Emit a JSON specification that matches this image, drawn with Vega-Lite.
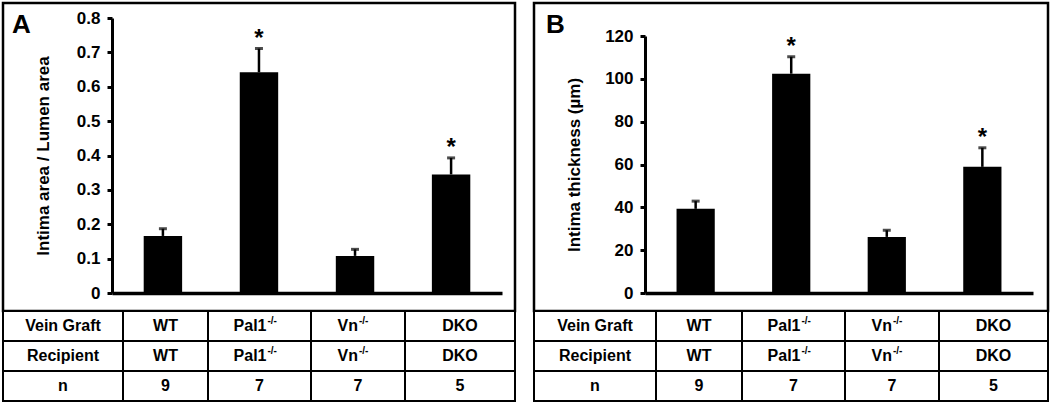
{
  "$schema": "https://vega.github.io/schema/vega-lite/v6.json",
  "padding": {"left": 1, "top": 1, "right": 0, "bottom": 0},
  "spacing": 15,
  "config": {
    "font": "Liberation Sans",
    "view": {"stroke": null},
    "axis": {"domainColor": "black", "tickColor": "black", "labelColor": "black", "titleColor": "black", "labelOverlap": false},
    "title": {"font": "Liberation Sans", "color": "black"}
  },
  "datasets": {
    "barsA": [
      {"g": "WT", "mean": 0.166, "upper": 0.187, "star": ""},
      {"g": "Pal1", "mean": 0.642, "upper": 0.711, "star": "*"},
      {"g": "Vn", "mean": 0.108, "upper": 0.127, "star": ""},
      {"g": "DKO", "mean": 0.345, "upper": 0.393, "star": "*"}
    ],
    "barsB": [
      {"g": "WT", "mean": 39.3, "upper": 42.9, "star": ""},
      {"g": "Pal1", "mean": 102.4, "upper": 110.3, "star": "*"},
      {"g": "Vn", "mean": 26.2, "upper": 29.3, "star": ""},
      {"g": "DKO", "mean": 58.9, "upper": 67.8, "star": "*"}
    ],
    "table": [
      {"r": 1, "c": 0, "t": "Vein Graft", "s": ""},
      {"r": 2, "c": 0, "t": "Recipient", "s": ""},
      {"r": 3, "c": 0, "t": "n", "s": ""},
      {"r": 1, "c": 1, "t": "WT", "s": ""},
      {"r": 2, "c": 1, "t": "WT", "s": ""},
      {"r": 3, "c": 1, "t": "9", "s": ""},
      {"r": 1, "c": 2, "t": "Pal1", "s": "-/-"},
      {"r": 2, "c": 2, "t": "Pal1", "s": "-/-"},
      {"r": 3, "c": 2, "t": "7", "s": ""},
      {"r": 1, "c": 3, "t": "Vn", "s": "-/-"},
      {"r": 2, "c": 3, "t": "Vn", "s": "-/-"},
      {"r": 3, "c": 3, "t": "7", "s": ""},
      {"r": 1, "c": 4, "t": "DKO", "s": ""},
      {"r": 2, "c": 4, "t": "DKO", "s": ""},
      {"r": 3, "c": 4, "t": "5", "s": ""}
    ]
  },
  "hconcat": [
    {
      "spacing": 0,
      "bounds": "flush",
      "vconcat": [
        {
          "width": 512,
          "height": 308,
          "view": {"stroke": "black", "strokeWidth": 2.5},
          "title": {"text": "A", "anchor": "start", "offset": -35, "dx": 9, "fontSize": 26, "fontWeight": "bold"},
          "data": {"name": "barsA"},
          "encoding": {
            "x": {"field": "g", "type": "nominal", "sort": null,
              "scale": {"range": [109, 499], "paddingInner": 0.6, "paddingOuter": 0.33},
              "axis": {"orient": "bottom", "offset": -18, "labels": false, "ticks": false, "title": null, "domainWidth": 3.5}}
          },
          "layer": [
            {
              "mark": {"type": "bar", "color": "black"},
              "encoding": {
                "y": {"field": "mean", "type": "quantitative",
                  "scale": {"domain": [0, 0.8], "range": [290, 15]},
                  "axis": {"orient": "left", "offset": -109, "values": [0, 0.1, 0.2, 0.3, 0.4, 0.5, 0.6, 0.7, 0.8], "format": ".1~f",
                    "labelOverlap": false, "labelBound": false, "labelFlush": false, "tickCount": 9,
                    "grid": false, "domainWidth": 3, "tickSize": 5, "tickWidth": 3, "labelPadding": 7,
                    "labelFontSize": 17, "labelFontWeight": "bold",
                    "title": "Intima area / Lumen area", "titleFontSize": 17, "titleFontWeight": "bold", "titlePadding": 24}}
              }
            },
            {
              "mark": {"type": "rule", "color": "black", "strokeWidth": 2.5},
              "encoding": {"y": {"field": "mean", "type": "quantitative"}, "y2": {"field": "upper"}}
            },
            {
              "mark": {"type": "tick", "color": "black", "size": 8, "thickness": 3},
              "encoding": {"y": {"field": "upper", "type": "quantitative"}}
            },
            {
              "mark": {"type": "text", "fontSize": 24, "fontWeight": "bold", "baseline": "alphabetic", "dy": -3, "color": "black"},
              "encoding": {"y": {"field": "upper", "type": "quantitative"}, "text": {"field": "star"}}
            }
          ]
        },
        {
          "spacing": 0,
          "bounds": "flush",
          "hconcat": [
            {
              "width": 120, "height": 90, "data": {"name": "table"},
              "transform": [{"filter": "datum.c === 0"}],
              "encoding": {"y": {"field": "r", "type": "ordinal", "scale": {"paddingInner": 0, "paddingOuter": 0}, "axis": null}},
              "layer": [
                {"mark": {"type": "rect", "fill": "white", "stroke": "black", "strokeWidth": 2}},
                {"mark": {"type": "text", "fontSize": 16, "fontWeight": "bold", "color": "black"}, "encoding": {"text": {"field": "t"}}}
              ]
            },
            {
              "width": 85, "height": 90, "data": {"name": "table"},
              "transform": [{"filter": "datum.c === 1"}],
              "encoding": {"y": {"field": "r", "type": "ordinal", "scale": {"paddingInner": 0, "paddingOuter": 0}, "axis": null}},
              "layer": [
                {"mark": {"type": "rect", "fill": "white", "stroke": "black", "strokeWidth": 2}},
                {"mark": {"type": "text", "fontSize": 16, "fontWeight": "bold", "color": "black"}, "encoding": {"text": {"field": "t"}}}
              ]
            },
            {
              "width": 103, "height": 90, "data": {"name": "table"},
              "transform": [{"filter": "datum.c === 2"}],
              "encoding": {"y": {"field": "r", "type": "ordinal", "scale": {"paddingInner": 0, "paddingOuter": 0}, "axis": null}},
              "layer": [
                {"mark": {"type": "rect", "fill": "white", "stroke": "black", "strokeWidth": 2}},
                {"transform": [{"filter": "datum.s === ''"}], "mark": {"type": "text", "fontSize": 16, "fontWeight": "bold", "color": "black"}, "encoding": {"text": {"field": "t"}}},
                {"transform": [{"filter": "datum.s !== ''"}], "mark": {"type": "text", "align": "right", "dx": 7, "fontSize": 16, "fontWeight": "bold", "color": "black"}, "encoding": {"text": {"field": "t"}}},
                {"transform": [{"filter": "datum.s !== ''"}], "mark": {"type": "text", "align": "left", "dx": 8, "dy": -5, "fontSize": 10, "fontWeight": "bold", "color": "black"}, "encoding": {"text": {"field": "s"}}}
              ]
            },
            {
              "width": 94, "height": 90, "data": {"name": "table"},
              "transform": [{"filter": "datum.c === 3"}],
              "encoding": {"y": {"field": "r", "type": "ordinal", "scale": {"paddingInner": 0, "paddingOuter": 0}, "axis": null}},
              "layer": [
                {"mark": {"type": "rect", "fill": "white", "stroke": "black", "strokeWidth": 2}},
                {"transform": [{"filter": "datum.s === ''"}], "mark": {"type": "text", "fontSize": 16, "fontWeight": "bold", "color": "black"}, "encoding": {"text": {"field": "t"}}},
                {"transform": [{"filter": "datum.s !== ''"}], "mark": {"type": "text", "align": "right", "dx": 0, "fontSize": 16, "fontWeight": "bold", "color": "black"}, "encoding": {"text": {"field": "t"}}},
                {"transform": [{"filter": "datum.s !== ''"}], "mark": {"type": "text", "align": "left", "dx": 1, "dy": -5, "fontSize": 10, "fontWeight": "bold", "color": "black"}, "encoding": {"text": {"field": "s"}}}
              ]
            },
            {
              "width": 110, "height": 90, "data": {"name": "table"},
              "transform": [{"filter": "datum.c === 4"}],
              "encoding": {"y": {"field": "r", "type": "ordinal", "scale": {"paddingInner": 0, "paddingOuter": 0}, "axis": null}},
              "layer": [
                {"mark": {"type": "rect", "fill": "white", "stroke": "black", "strokeWidth": 2}},
                {"mark": {"type": "text", "fontSize": 16, "fontWeight": "bold", "color": "black"}, "encoding": {"text": {"field": "t"}}}
              ]
            }
          ]
        }
      ]
    },
    {
      "spacing": 0,
      "bounds": "flush",
      "vconcat": [
        {
          "width": 514,
          "height": 308,
          "view": {"stroke": "black", "strokeWidth": 2.5},
          "title": {"text": "B", "anchor": "start", "offset": -35, "dx": 12, "fontSize": 26, "fontWeight": "bold"},
          "data": {"name": "barsB"},
          "encoding": {
            "x": {"field": "g", "type": "nominal", "sort": null,
              "scale": {"range": [111, 499], "paddingInner": 0.6, "paddingOuter": 0.33},
              "axis": {"orient": "bottom", "offset": -18, "labels": false, "ticks": false, "title": null, "domainWidth": 3.5}}
          },
          "layer": [
            {
              "mark": {"type": "bar", "color": "black"},
              "encoding": {
                "y": {"field": "mean", "type": "quantitative",
                  "scale": {"domain": [0, 120], "range": [290, 33]},
                  "axis": {"orient": "left", "offset": -111, "values": [0, 20, 40, 60, 80, 100, 120],
                    "labelOverlap": false,
                    "grid": false, "domainWidth": 3, "tickSize": 5, "tickWidth": 3, "labelPadding": 7,
                    "labelFontSize": 17, "labelFontWeight": "bold",
                    "title": "Intima thickness (µm)", "titleFontSize": 17, "titleFontWeight": "bold", "titlePadding": 21}}
              }
            },
            {
              "mark": {"type": "rule", "color": "black", "strokeWidth": 2.5},
              "encoding": {"y": {"field": "mean", "type": "quantitative"}, "y2": {"field": "upper"}}
            },
            {
              "mark": {"type": "tick", "color": "black", "size": 8, "thickness": 3},
              "encoding": {"y": {"field": "upper", "type": "quantitative"}}
            },
            {
              "mark": {"type": "text", "fontSize": 24, "fontWeight": "bold", "baseline": "alphabetic", "dy": -3, "color": "black"},
              "encoding": {"y": {"field": "upper", "type": "quantitative"}, "text": {"field": "star"}}
            }
          ]
        },
        {
          "spacing": 0,
          "bounds": "flush",
          "hconcat": [
            {
              "width": 122, "height": 90, "data": {"name": "table"},
              "transform": [{"filter": "datum.c === 0"}],
              "encoding": {"y": {"field": "r", "type": "ordinal", "scale": {"paddingInner": 0, "paddingOuter": 0}, "axis": null}},
              "layer": [
                {"mark": {"type": "rect", "fill": "white", "stroke": "black", "strokeWidth": 2}},
                {"mark": {"type": "text", "fontSize": 16, "fontWeight": "bold", "color": "black"}, "encoding": {"text": {"field": "t"}}}
              ]
            },
            {
              "width": 86, "height": 90, "data": {"name": "table"},
              "transform": [{"filter": "datum.c === 1"}],
              "encoding": {"y": {"field": "r", "type": "ordinal", "scale": {"paddingInner": 0, "paddingOuter": 0}, "axis": null}},
              "layer": [
                {"mark": {"type": "rect", "fill": "white", "stroke": "black", "strokeWidth": 2}},
                {"mark": {"type": "text", "fontSize": 16, "fontWeight": "bold", "color": "black"}, "encoding": {"text": {"field": "t"}}}
              ]
            },
            {
              "width": 103, "height": 90, "data": {"name": "table"},
              "transform": [{"filter": "datum.c === 2"}],
              "encoding": {"y": {"field": "r", "type": "ordinal", "scale": {"paddingInner": 0, "paddingOuter": 0}, "axis": null}},
              "layer": [
                {"mark": {"type": "rect", "fill": "white", "stroke": "black", "strokeWidth": 2}},
                {"transform": [{"filter": "datum.s === ''"}], "mark": {"type": "text", "fontSize": 16, "fontWeight": "bold", "color": "black"}, "encoding": {"text": {"field": "t"}}},
                {"transform": [{"filter": "datum.s !== ''"}], "mark": {"type": "text", "align": "right", "dx": 7, "fontSize": 16, "fontWeight": "bold", "color": "black"}, "encoding": {"text": {"field": "t"}}},
                {"transform": [{"filter": "datum.s !== ''"}], "mark": {"type": "text", "align": "left", "dx": 8, "dy": -5, "fontSize": 10, "fontWeight": "bold", "color": "black"}, "encoding": {"text": {"field": "s"}}}
              ]
            },
            {
              "width": 94, "height": 90, "data": {"name": "table"},
              "transform": [{"filter": "datum.c === 3"}],
              "encoding": {"y": {"field": "r", "type": "ordinal", "scale": {"paddingInner": 0, "paddingOuter": 0}, "axis": null}},
              "layer": [
                {"mark": {"type": "rect", "fill": "white", "stroke": "black", "strokeWidth": 2}},
                {"transform": [{"filter": "datum.s === ''"}], "mark": {"type": "text", "fontSize": 16, "fontWeight": "bold", "color": "black"}, "encoding": {"text": {"field": "t"}}},
                {"transform": [{"filter": "datum.s !== ''"}], "mark": {"type": "text", "align": "right", "dx": 0, "fontSize": 16, "fontWeight": "bold", "color": "black"}, "encoding": {"text": {"field": "t"}}},
                {"transform": [{"filter": "datum.s !== ''"}], "mark": {"type": "text", "align": "left", "dx": 1, "dy": -5, "fontSize": 10, "fontWeight": "bold", "color": "black"}, "encoding": {"text": {"field": "s"}}}
              ]
            },
            {
              "width": 109, "height": 90, "data": {"name": "table"},
              "transform": [{"filter": "datum.c === 4"}],
              "encoding": {"y": {"field": "r", "type": "ordinal", "scale": {"paddingInner": 0, "paddingOuter": 0}, "axis": null}},
              "layer": [
                {"mark": {"type": "rect", "fill": "white", "stroke": "black", "strokeWidth": 2}},
                {"mark": {"type": "text", "fontSize": 16, "fontWeight": "bold", "color": "black"}, "encoding": {"text": {"field": "t"}}}
              ]
            }
          ]
        }
      ]
    }
  ]
}
